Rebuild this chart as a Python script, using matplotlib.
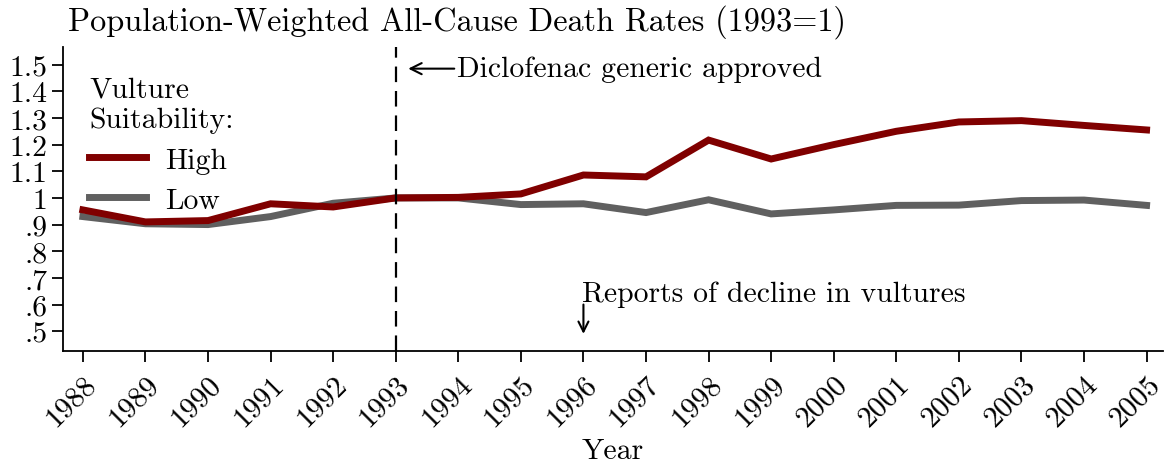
import matplotlib
matplotlib.use("Agg")
import matplotlib.pyplot as plt

plt.rcParams["font.family"] = ["cmr10", "DejaVu Serif"]
plt.rcParams["axes.formatter.use_mathtext"] = True

# ── data ─────────────────────────────────────────────────────────────
years = list(range(1988, 2006))
high = [0.955, 0.910, 0.915, 0.978, 0.966, 1.000, 1.002, 1.015, 1.086, 1.079,
        1.217, 1.146, 1.200, 1.250, 1.285, 1.290, 1.272, 1.255]
low = [0.930, 0.903, 0.900, 0.930, 0.980, 1.000, 1.000, 0.975, 0.978, 0.945,
       0.993, 0.940, 0.955, 0.972, 0.973, 0.990, 0.992, 0.972]
yticks = [0.5, 0.6, 0.7, 0.8, 0.9, 1.0, 1.1, 1.2, 1.3, 1.4, 1.5]
ytick_labels = [".5", ".6", ".7", ".8", ".9", "1", "1.1", "1.2", "1.3", "1.4", "1.5"]

FS = 21.4

fig = plt.figure(figsize=(11.64, 4.64), dpi=100)
ax = fig.add_axes([0.054, 0.241, 0.945, 0.656])

ax.plot(years, high, color="#800000", lw=5, label="High", solid_joinstyle="miter")
ax.plot(years, low, color="#606060", lw=5, label="Low", solid_joinstyle="miter", zorder=1)
ax.axvline(1993, color="black", lw=1.6, dashes=(7, 4))

ax.set_xlim(1987.68, 2005.26)
ax.set_ylim(0.425, 1.567)
ax.set_xticks(years)
ax.set_xticklabels([str(y) for y in years], rotation=45, ha="right",
                   rotation_mode="anchor")
ax.set_yticks(yticks)
ax.set_yticklabels(ytick_labels)
ax.tick_params(labelsize=FS, length=8, width=1.3, pad=3)
ax.tick_params(axis="x", pad=6)
for side in ["top", "right"]:
    ax.spines[side].set_visible(False)
for side in ["left", "bottom"]:
    ax.spines[side].set_linewidth(1.3)
ax.set_xlabel("Year", fontsize=FS, labelpad=4.5)

ax.annotate("Diclofenac generic approved", xy=(1993.2, 1.485), xytext=(1993.98, 1.485),
            fontsize=FS, va="center", ha="left",
            arrowprops=dict(arrowstyle="->", color="black", lw=1.5,
                            shrinkA=0, shrinkB=0, mutation_scale=20))
ax.annotate("", xy=(1996, 0.49), xytext=(1996, 0.6),
            arrowprops=dict(arrowstyle="->", color="black", lw=1.5,
                            shrinkA=0, shrinkB=0, mutation_scale=18))
ax.text(1995.97, 0.59, "Reports of decline in vultures", fontsize=FS,
        ha="left", va="bottom")

leg = ax.legend(title="Vulture\nSuitability:", loc="upper left", frameon=False,
                fontsize=FS, title_fontsize=FS, handlelength=1.9,
                handletextpad=0.65, bbox_to_anchor=(-0.003, 1.0),
                borderaxespad=0.6, labelspacing=0.45)
leg._legend_box.align = "left"

fig.text(0.058, 0.952, "Population-Weighted All-Cause Death Rates (1993=1)",
         fontsize=23.3, ha="left", va="center")

fig.savefig("out.png", dpi=100)
